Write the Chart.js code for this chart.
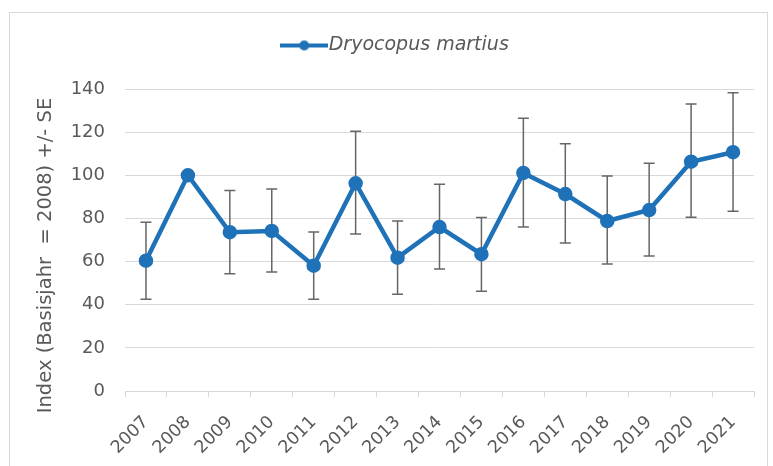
<!DOCTYPE html>
<html><head><meta charset="utf-8">
<script src="https://cdn.jsdelivr.net/npm/chart.js@4/dist/chart.umd.min.js"></script>
<style>
html,body{margin:0;padding:0;background:#fff;}
#wrap{position:relative;width:773px;height:466px;overflow:hidden;}
#frame{position:absolute;left:9px;top:12px;width:759px;height:470px;border:1px solid #d9d9d9;box-sizing:border-box;pointer-events:none;}
canvas{position:absolute;left:0;top:0;}
</style></head><body>
<div id="wrap"><canvas id="c" width="773" height="466"></canvas><div id="frame"></div></div>
<script>
const years = ['2007','2008','2009','2010','2011','2012','2013','2014','2015','2016','2017','2018','2019','2020','2021'];
const indexValues = [60.4, 100, 73.6, 74.2, 58.1, 96.3, 61.8, 76.0, 63.4, 101.1, 91.3, 78.8, 83.9, 106.3, 110.7];
const seLower = [42.5, null, 54.4, 55.2, 42.5, 72.8, 44.8, 56.6, 46.2, 76.0, 68.6, 58.9, 62.6, 80.5, 83.3];
const seUpper = [78.2, null, 93.0, 93.6, 73.7, 120.4, 78.8, 95.8, 80.4, 126.4, 114.6, 99.7, 105.6, 133.1, 138.3];
const seriesName = 'Dryocopus martius';
const yAxisTitle = 'Index (Basisjahr  = 2008) +/- SE';
const yMin = 0, yMax = 140, yStep = 20;

const BLUE = '#1f72b8';
const GREY = '#595959';
const GRID = '#d9d9d9';
const FONT = '"DejaVu Sans", sans-serif';

// legend symbol: line with circle marker
const sym = document.createElement('canvas');
sym.width = 48; sym.height = 12;
(function(){
  const g = sym.getContext('2d');
  g.strokeStyle = BLUE; g.lineWidth = 4;
  g.beginPath(); g.moveTo(0,6); g.lineTo(48,6); g.stroke();
  g.fillStyle = BLUE; g.beginPath(); g.arc(24,6,5,0,Math.PI*2); g.fill();
})();

const errorBars = {
  id: 'errorBars',
  beforeDatasetsDraw(chart) {
    const ctx = chart.ctx, x = chart.scales.x, y = chart.scales.y;
    ctx.save();
    ctx.strokeStyle = '#666666';
    ctx.lineWidth = 1.5;
    for (let i = 0; i < years.length; i++) {
      if (seLower[i] == null || seUpper[i] == null) continue;
      const px = x.getPixelForValue(i);
      const lo = y.getPixelForValue(seLower[i]);
      const hi = y.getPixelForValue(seUpper[i]);
      ctx.beginPath();
      ctx.moveTo(px, lo); ctx.lineTo(px, hi);
      ctx.moveTo(px - 5.5, lo); ctx.lineTo(px + 5.5, lo);
      ctx.moveTo(px - 5.5, hi); ctx.lineTo(px + 5.5, hi);
      ctx.stroke();
    }
    ctx.restore();
  }
};

new Chart(document.getElementById('c'), {
  type: 'line',
  data: {
    labels: years,
    datasets: [{
      label: seriesName,
      data: indexValues,
      borderColor: BLUE,
      backgroundColor: BLUE,
      borderWidth: 4.5,
      pointRadius: 5,
      pointStyle: 'circle',
      pointBackgroundColor: BLUE,
      pointBorderColor: BLUE,
      tension: 0
    }]
  },
  options: {
    responsive: false,
    devicePixelRatio: 1,
    animation: false,
    layout: { padding: { top: 0, left: 44, right: 19, bottom: 0 } },
    plugins: {
      legend: {
        display: true,
        position: 'top',
        labels: {
          usePointStyle: true,
          pointStyleWidth: 30,
          color: GREY,
          font: { family: FONT, size: 19, style: 'italic' },
          padding: 36,
          generateLabels(chart) {
            return [{ text: seriesName, pointStyle: sym, fillStyle: BLUE, strokeStyle: BLUE, lineWidth: 0, datasetIndex: 0, fontColor: GREY }];
          }
        }
      },
      // empty title used only as spacing between legend and plot area
      title: { display: true, text: '', position: 'top', weight: 500, font: { size: 10 }, padding: { top: 12, bottom: 0 } },
      tooltip: { enabled: false }
    },
    scales: {
      x: {
        offset: true,
        grid: { display: true, offset: true, drawOnChartArea: false, drawTicks: true, tickLength: 6, color: GRID },
        border: { display: true, color: GRID, width: 1 },
        ticks: { color: GREY, font: { family: FONT, size: 17.5 }, minRotation: 45, maxRotation: 45, padding: 15, autoSkip: false },
        afterFit(s) { s.height = 75; }
      },
      y: {
        min: yMin, max: yMax,
        grid: { color: GRID, drawTicks: false },
        border: { display: false },
        ticks: { stepSize: yStep, color: GREY, font: { family: FONT, size: 18 }, padding: 20 },
        title: { display: true, text: yAxisTitle + '     ', color: GREY, font: { family: FONT, size: 19.5 }, padding: { top: -10, bottom: 0 } },
        afterFit(s) { s.width = 81; }
      }
    }
  },
  plugins: [errorBars]
});
</script>
</body></html>
